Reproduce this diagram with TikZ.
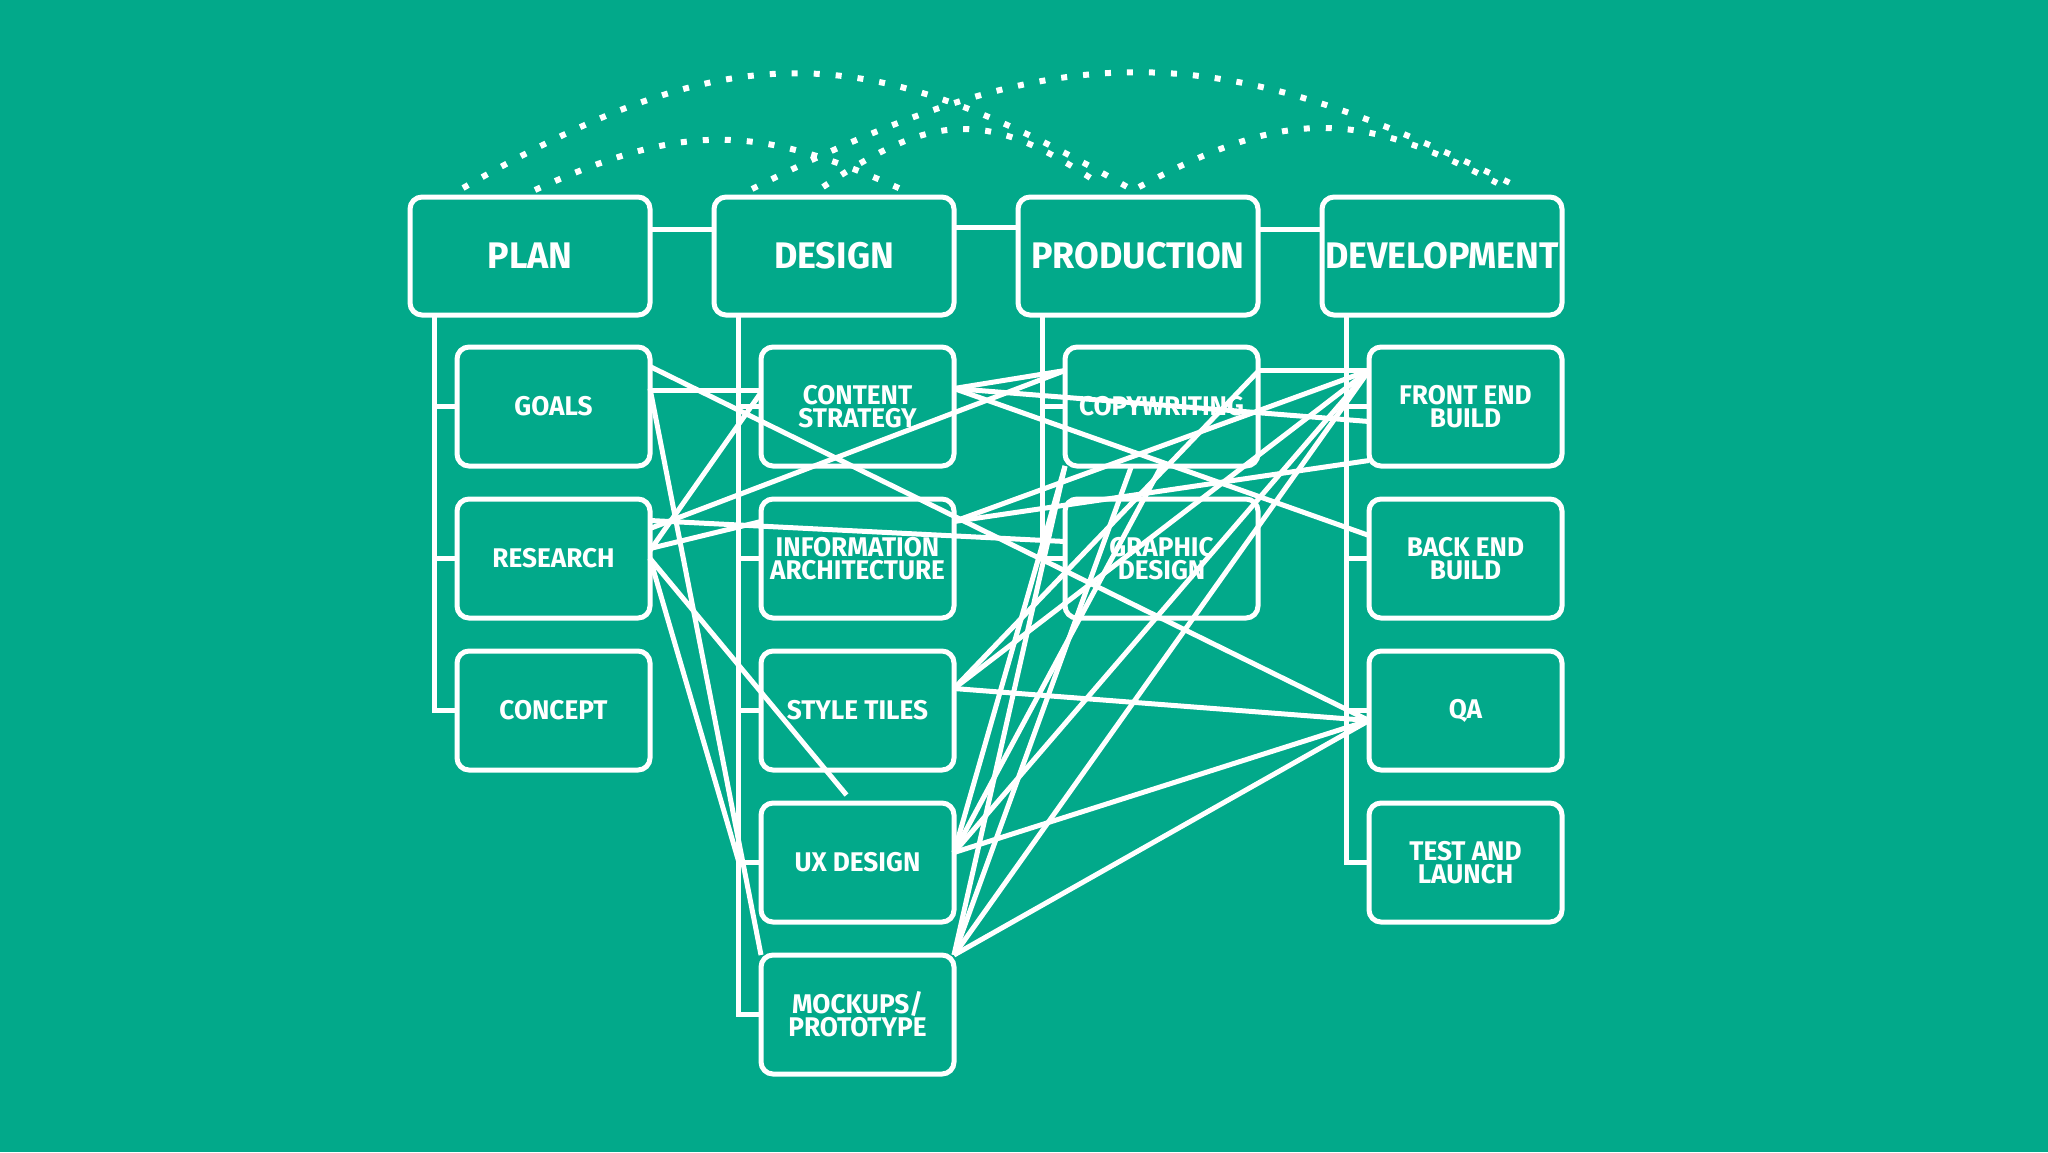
\documentclass[tikz,border=0pt]{standalone}
\usepackage{fontspec}
\setmainfont{Fira Sans}[FakeStretch=0.97]
\usepackage{xcolor}
\usetikzlibrary{positioning, calc}

\definecolor{bgteal}{HTML}{02A98A}

\begin{document}
\begin{tikzpicture}[
        x=0.5pt, y=-0.5pt,
        head/.style={rectangle, rounded corners=6pt, draw=white, line width=2.5pt, minimum width=120pt, minimum height=59pt, inner sep=0pt, outer sep=0pt, text=white, align=center, font=\bfseries\fontsize{18.5}{18.5}\selectfont},
        sub/.style={rectangle, rounded corners=6pt, draw=white, line width=2.5pt, minimum width=96.5pt, minimum height=59.5pt, inner sep=0pt, outer sep=0pt, text=white, align=center, font=\bfseries\fontsize{13.5}{11.5}\selectfont},
        tree/.style={white, line width=2.5pt},
        link/.style={white, line width=2.5pt},
        hop/.style={white, line width=3pt, dash pattern=on 3pt off 8pt}
    ]

    \fill[bgteal] (0,0) rectangle (2048,1152);

    % phases
    \node (plan) [head] at (530,256) {PLAN};
    \node (design) [head, right=32pt of plan] {DESIGN};
    \node (production) [head, right=32pt of design] {PRODUCTION};
    \node (development) [head, right=32pt of production] {DEVELOPMENT};

    \draw[tree] ($(plan.north east)+(0,32)$) -- ($(design.north west)+(0,32)$);
    \draw[tree] ($(design.north east)+(0,30)$) -- ($(production.north west)+(0,30)$);
    \draw[tree] ($(production.north east)+(0,32)$) -- ($(development.north west)+(0,32)$);

    % plan
    \node (goals) [sub, below left=16pt and 0pt of plan.south east] {GOALS};
    \node (research) [sub, below=16.5pt of goals] {RESEARCH};
    \node (concept) [sub, below=16.5pt of research] {CONCEPT};

    % design
    \node (content) [sub, below left=16pt and 0pt of design.south east] {CONTENT\\STRATEGY};
    \node (infoarch) [sub, below=16.5pt of content] {INFORMATION\\ARCHITECTURE};
    \node (styletiles) [sub, below=16.5pt of infoarch] {STYLE TILES};
    \node (uxdesign) [sub, below=16.5pt of styletiles] {UX DESIGN};
    \node (mockups) [sub, below=16.5pt of uxdesign] {MOCKUPS/\\PROTOTYPE};

    % production
    \node (copywriting) [sub, below left=16pt and 0pt of production.south east] {COPYWRITING};
    \node (graphic) [sub, below=16.5pt of copywriting] {GRAPHIC\\DESIGN};

    % development
    \node (frontend) [sub, below left=16pt and 0pt of development.south east] {FRONT END\\BUILD};
    \node (backend) [sub, below=16.5pt of frontend] {BACK END\\BUILD};
    \node (qa) [sub, below=16.5pt of backend] {QA};
    \node (launch) [sub, below=16.5pt of qa] {TEST AND\\LAUNCH};

    % trunks
    \coordinate (planTrunk) at ($(plan.south west)+(24,0)$);
    \coordinate (designTrunk) at ($(design.south west)+(24,0)$);
    \coordinate (prodTrunk) at ($(production.south west)+(24,0)$);
    \coordinate (devTrunk) at ($(development.south west)+(24,0)$);
    \draw[tree] (planTrunk) |- (concept.west);
    \draw[tree] (designTrunk) |- (mockups.west);
    \draw[tree] (prodTrunk) |- (graphic.west);
    \draw[tree] (devTrunk) |- (launch.west);
    \foreach \c in {goals,research}
        \draw[tree] (planTrunk |- \c.west) -- (\c.west);
    \foreach \c in {content,infoarch,styletiles,uxdesign}
        \draw[tree] (designTrunk |- \c.west) -- (\c.west);
    \draw[tree] (prodTrunk |- copywriting.west) -- (copywriting.west);
    \foreach \c in {frontend,backend,qa}
        \draw[tree] (devTrunk |- \c.west) -- (\c.west);

    % hops between phases
    \draw[hop] ($(plan.north west)+(53,-9)$) .. controls +(267,-153) and +(-267,-153) .. ($(production.north west)+(111,-9)$);
    \draw[hop] ($(plan.north west)+(125,-7)$) .. controls +(147,-67) and +(-147,-67) .. ($(design.north west)+(189,-7)$);
    \draw[hop] ($(design.north west)+(38,-8)$) .. controls +(308,-155) and +(-308,-155) .. ($(development.north west)+(198,-9)$);
    \draw[hop] ($(design.north west)+(109,-10)$) .. controls +(112,-76) and +(-112,-76) .. ($(production.north west)+(83,-12)$);
    \draw[hop] ($(production.north west)+(121,-10)$) .. controls +(143,-76) and +(-143,-76) .. ($(development.north west)+(175,-14)$);

    % links
    \coordinate (cwIn) at ($(copywriting.west)+(0,-36)$);
    \coordinate (feTop) at ($(frontend.west)+(0,-36)$);
    \coordinate (qaIn) at ($(qa.west)+(0,10)$);
    \coordinate (csOut) at ($(content.east)+(0,-18)$);
    \coordinate (iaOut) at ($(infoarch.east)+(0,-37)$);
    \coordinate (stOut) at ($(styletiles.east)+(0,-22)$);
    \coordinate (uxOut) at ($(uxdesign.east)+(0,-10)$);

    \draw[link] ($(goals.east)+(0,-40)$) -- (qaIn);
    \draw[link] ($(goals.east)+(0,-16)$) -- ($(content.west)+(0,-16)$);
    \draw[link] ($(goals.east)+(0,-18)$) -- (mockups.north west);

    \draw[link] ($(research.east)+(0,-30)$) -- (cwIn);
    \draw[link] ($(research.east)+(0,-8)$) -- ($(content.west)+(0,-14)$);
    \draw[link] ($(research.east)+(0,-10)$) -- ($(infoarch.west)+(0,-37)$);
    \draw[link] ($(research.east)+(0,-38)$) -- ($(graphic.west)+(0,-17)$);
    \draw[link] (research.east) -- ($(uxdesign.west)+(-22,0)$);
    \draw[link] (research.east) -- ($(uxdesign.north)+(-11,-8)$);

    \draw[link] (csOut) -- (cwIn);
    \draw[link] (csOut) -- ($(frontend.west)+(0,15)$);
    \draw[link] (csOut) -- ($(backend.west)+(0,-23)$);
    \draw[link] (iaOut) -- (feTop);
    \draw[link] (iaOut) -- ($(frontend.west)+(0,54)$);
    \draw[link] ($(copywriting.east)+(0,-36)$) -- (feTop);

    \draw[link] (stOut) -- ($(copywriting.east)+(0,-35)$);
    \draw[link] (stOut) -- (feTop);
    \draw[link] (stOut) -- (qaIn);
    \draw[link] (uxOut) -- (feTop);
    \draw[link] (uxOut) -- (qaIn);
    \draw[link] (uxOut) -- (copywriting.south west);
    \draw[link] (uxOut) -- (copywriting.south);
    \draw[link] (mockups.north east) -- (feTop);
    \draw[link] (mockups.north east) -- (qaIn);
    \draw[link] (mockups.north east) -- (copywriting.south west);
    \draw[link] (mockups.north east) -- ($(copywriting.south)+(-30,0)$);

\end{tikzpicture}
\end{document}
